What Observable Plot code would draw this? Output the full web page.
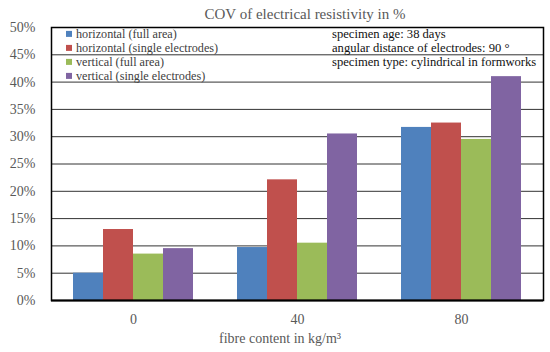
<!DOCTYPE html>
<html><head><meta charset="utf-8">
<script src="https://cdn.jsdelivr.net/npm/d3@7"></script>
<script src="https://cdn.jsdelivr.net/npm/@observablehq/plot@0.6"></script>
<style>
body{margin:0;background:#fff;}
#wrap{position:relative;width:550px;height:352px;font-family:"Liberation Serif",serif;overflow:hidden;}
#wrap svg{position:absolute;left:0;top:0;}
.abs{position:absolute;white-space:nowrap;line-height:1;}
.title{font-size:15px;color:#595959;transform:translate(-50%,-50%);}
.xlab{font-size:14px;color:#595959;transform:translate(-50%,-50%);}
.leg{font-size:12.2px;color:#404040;transform:translateY(-50%);display:flex;align-items:center;}
.leg span.sw{display:inline-block;width:6px;height:6px;margin-right:4px;}
.note{font-size:12.6px;color:#111;transform:translateY(-50%);}
</style></head><body><div id="wrap"></div>
<script>
const groups = ["0", "40", "80"];
const series = ["horizontal (full area)", "horizontal (single electrodes)", "vertical (full area)", "vertical (single electrodes)"];
const colors = ["#4F81BD", "#C0504D", "#9BBB59", "#8064A2"];
const hFull = [5.0, 9.7, 31.7];
const hSingle = [13.0, 22.1, 32.5];
const vFull = [8.5, 10.5, 29.5];
const vSingle = [9.5, 30.5, 41.0];
const yTicks = [0, 5, 10, 15, 20, 25, 30, 35, 40, 45, 50];
const notes = ["specimen age: 38 days", "angular distance of electrodes: 90 °", "specimen type: cylindrical in formworks"];
const titleText = "COV of electrical resistivity in %";
const xLabel = "fibre content in kg/m³";

const seriesValues = [hFull, hSingle, vFull, vSingle];
const data = [];
groups.forEach((g, gi) => series.forEach((s, si) => data.push({group: g, series: s, value: seriesValues[si][gi]})));

const chart = Plot.plot({
  width: 550, height: 352,
  marginLeft: 51, marginRight: 7, marginTop: 27, marginBottom: 52,
  style: {fontFamily: "Liberation Serif, serif", fontSize: "14px", color: "#595959", background: "transparent"},
  fx: {domain: groups, padding: 0, label: null, tickSize: 0, tickPadding: 14, axis: "bottom"},
  x: {domain: series, paddingInner: 0, paddingOuter: 0.73, axis: null},
  y: {domain: [0, 50], ticks: yTicks, tickFormat: d => d + "%", tickSize: 0, tickPadding: 16, label: null},
  color: {domain: series, range: colors},
  marks: [
    Plot.ruleY(yTicks.filter(t => t > 0 && t < 50), {stroke: "#333", strokeWidth: 1}),
    Plot.barY(data, {fx: "group", x: "series", y: "value", fill: "series"}),
    Plot.ruleY([0], {stroke: "#000", strokeWidth: 2}),
    Plot.frame({facet: "super", stroke: "#000", strokeWidth: 1.5})
  ]
});
const wrap = document.getElementById("wrap");
wrap.appendChild(chart);

function addDiv(cls, x, y, html) {
  const d = document.createElement("div");
  d.className = "abs " + cls;
  d.style.left = x + "px"; d.style.top = y + "px";
  d.innerHTML = html;
  wrap.appendChild(d);
  return d;
}
addDiv("title", 305, 14, titleText);
addDiv("xlab", 280, 339, xLabel);
series.forEach((s, i) => addDiv("leg", 66, 34 + 14 * i, `<span class="sw" style="background:${colors[i]}"></span>${s}`));
notes.forEach((n, i) => addDiv("note", 332, 34 + 14 * i, n));
</script>
</body></html>
